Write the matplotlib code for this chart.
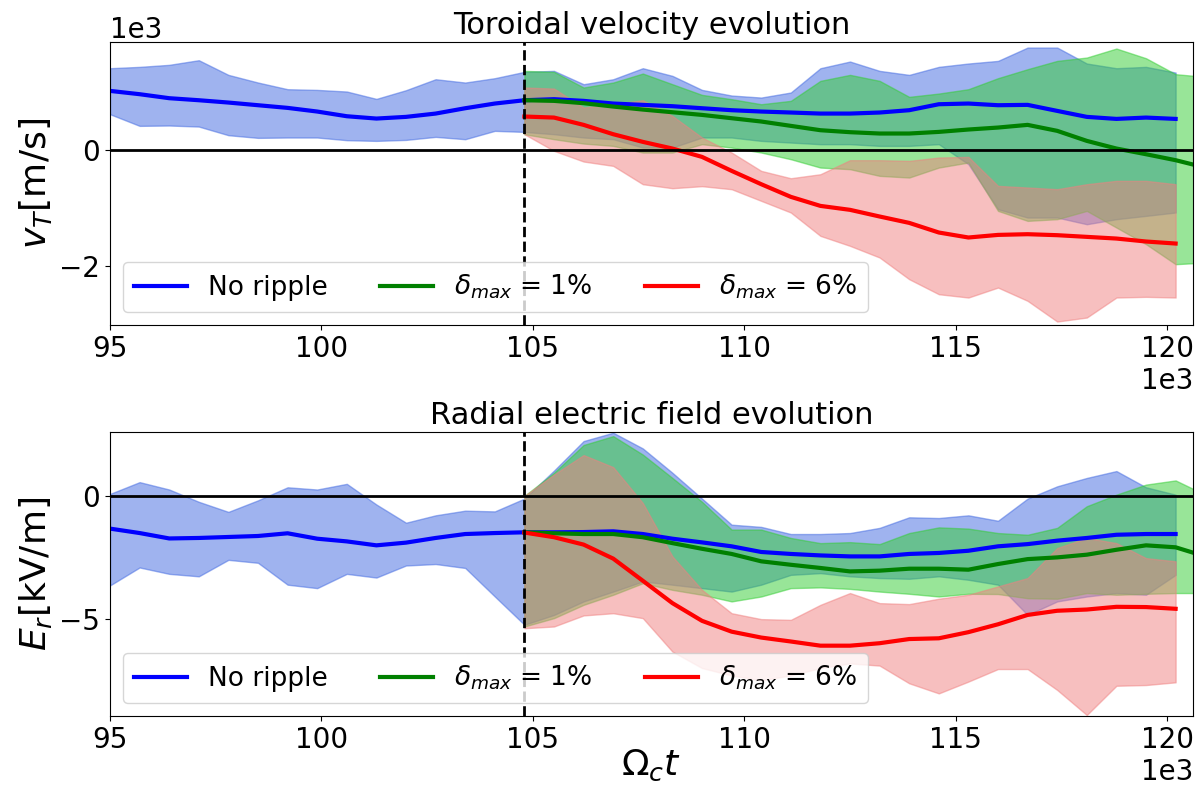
import numpy as np
import matplotlib.pyplot as plt

plt.rcParams['xtick.labelsize'] = 20
plt.rcParams['ytick.labelsize'] = 20

# time axis (Omega_c t), in units of 1e3
t_all = [95.0, 95.7, 96.4, 97.1, 97.8, 98.5, 99.2, 99.9, 100.6, 101.3, 102.0, 102.7,
         103.4, 104.1, 104.8, 105.5, 106.2, 106.9, 107.6, 108.3, 109.0, 109.7, 110.4,
         111.1, 111.8, 112.5, 113.2, 113.9, 114.6, 115.3, 116.0, 116.7, 117.4, 118.1,
         118.8, 119.5, 120.2]
t_rip = t_all[14:]
t_green = t_rip + [120.9]
t_switch = 104.8

# toroidal velocity [m/s]
vt_noripple_mean = [1017, 960, 891, 856, 816, 770, 724, 661, 580, 540, 569, 626, 718, 799, 856,
                    874, 845, 799, 776, 753, 718, 684, 661, 644, 626, 626, 644, 684, 787, 799,
                    770, 776, 672, 569, 534, 557, 534]
vt_noripple_hi = [1408, 1431, 1466, 1546, 1293, 1161, 1046, 1034, 1006, 879, 1029, 1218, 1161,
                  1236, 1345, 1362, 1132, 1218, 1408, 1276, 1034, 937, 902, 989, 1408, 1523,
                  1362, 1293, 1431, 1489, 1534, 1764, 1764, 1489, 1408, 1431, 1333]
vt_noripple_lo = [615, 414, 420, 402, 253, 207, 213, 213, 167, 155, 172, 224, 184, 328, 310,
                  270, 213, 184, 40, 40, 213, 213, 155, 126, 98, 98, 69, 69, 98, -247, -1023,
                  -1167, -1167, -1282, -1195, -1138, -1080]

vt_1pct_mean = [856, 845, 805, 747, 695, 649, 603, 546, 489, 414, 339, 305, 282, 282, 310, 351,
                385, 431, 328, 155, 23, -75, -178, -305]
vt_1pct_hi = [1362, 1345, 1075, 1161, 1316, 1132, 948, 874, 787, 845, 1190, 1293, 1190, 914, 971,
              1046, 1236, 1391, 1534, 1592, 1747, 1580, 1305, 1259]
vt_1pct_lo = [270, 184, 109, 69, -46, -46, 98, 40, -46, -161, -305, -333, -448, -477, -305, -218,
              -1052, -1224, -1195, -1052, -1339, -1626, -1971, -1943]

vt_6pct_mean = [575, 557, 431, 270, 138, 23, -121, -362, -592, -810, -966, -1034, -1149, -1259,
                -1425, -1511, -1466, -1454, -1471, -1500, -1529, -1580, -1615]
vt_6pct_hi = [1075, 1057, 730, 787, 856, 586, 213, -46, -362, -489, -420, -178, -178, -190, -132,
              -121, -621, -649, -678, -592, -534, -534, -592]
vt_6pct_lo = [270, -17, -201, -276, -592, -661, -626, -678, -879, -1080, -1483, -1655, -1856,
              -2230, -2489, -2546, -2374, -2603, -2960, -2891, -2546, -2534, -2546]

# radial electric field [kV/m]
er_noripple_mean = [-1.33, -1.51, -1.73, -1.71, -1.67, -1.63, -1.52, -1.74, -1.85, -2.01, -1.90,
                    -1.71, -1.55, -1.51, -1.48, -1.48, -1.47, -1.44, -1.55, -1.74, -1.89, -2.05,
                    -2.28, -2.36, -2.42, -2.46, -2.46, -2.36, -2.32, -2.23, -2.05, -1.96, -1.82,
                    -1.71, -1.58, -1.55, -1.55]
er_noripple_hi = [0.08, 0.56, 0.26, -0.24, -0.65, -0.18, 0.35, 0.26, 0.49, -0.35, -1.09, -0.79,
                  -0.60, -0.63, -0.11, 1.03, 2.23, 2.57, 1.93, 0.94, -0.11, -1.17, -1.26, -1.55,
                  -1.55, -1.51, -1.30, -0.87, -0.90, -0.79, -1.01, -0.11, 0.39, 0.73, 1.01, 0.35,
                  0.05]
er_noripple_lo = [-3.64, -2.91, -3.17, -3.27, -2.60, -2.72, -3.61, -3.75, -3.17, -3.32, -2.83,
                  -2.77, -2.93, -4.09, -5.24, -4.84, -4.29, -3.89, -3.48, -3.61, -3.75, -3.89,
                  -3.61, -3.21, -3.14, -3.27, -3.34, -3.37, -3.27, -3.41, -3.61, -4.84, -4.29,
                  -4.09, -3.95, -4.02, -3.21]

er_1pct_mean = [-1.48, -1.52, -1.55, -1.55, -1.68, -1.92, -2.15, -2.36, -2.66, -2.80, -2.93,
                -3.07, -3.04, -2.96, -2.96, -3.00, -2.77, -2.57, -2.50, -2.39, -2.19, -2.01,
                -2.09, -2.46]
er_1pct_hi = [0.0, 0.94, 2.07, 2.43, 1.68, 0.73, -0.24, -1.37, -1.37, -1.71, -1.92, -1.88, -1.96,
              -1.51, -1.28, -1.33, -1.51, -1.58, -1.30, -0.42, 0.05, 0.46, 0.63, 0.05]
er_1pct_lo = [-5.31, -4.97, -4.43, -4.02, -3.55, -3.82, -4.02, -4.29, -4.09, -3.75, -3.72, -3.78,
              -3.89, -3.98, -4.09, -3.98, -3.99, -4.16, -4.18, -3.95, -4.02, -3.98, -3.95, -3.95]

er_6pct_mean = [-1.49, -1.68, -1.98, -2.55, -3.45, -4.36, -5.08, -5.52, -5.76, -5.92, -6.09, -6.09,
                -5.99, -5.82, -5.79, -5.54, -5.22, -4.84, -4.67, -4.62, -4.51, -4.52, -4.59]
er_6pct_hi = [0.0, 0.87, 1.66, 1.17, -0.29, -2.46, -3.82, -4.77, -5.01, -5.04, -4.43, -3.95, -4.36,
              -4.40, -4.18, -4.02, -3.68, -3.34, -2.12, -1.71, -1.92, -2.53, -2.66]
er_6pct_lo = [-5.38, -5.31, -4.86, -4.77, -4.97, -6.33, -7.0, -7.3, -7.5, -7.3, -7.0, -6.81, -6.90,
              -7.62, -8.03, -7.55, -7.04, -7.04, -7.89, -8.91, -7.72, -7.69, -7.58]

labels = ['No ripple', r'$\delta_{max}$ = 1%', r'$\delta_{max}$ = 6%']
line_colors = ['b', 'g', 'r']
fill_colors = ['royalblue', 'limegreen', 'lightcoral']


def draw_panel(ax, series, title, ylabel, ylim, yticks):
    # series = list of (t, mean, lo, hi)
    for (t, m, lo, hi), fc in zip(series, fill_colors):
        ax.fill_between(np.array(t) * 1e3, lo, hi, color=fc, alpha=0.5)
    for (t, m, lo, hi), lc, lab in zip(series, line_colors, labels):
        ax.plot(np.array(t) * 1e3, m, color=lc, lw=3, label=lab)
    ax.axhline(0, color='k', lw=2)
    ax.axvline(t_switch * 1e3, color='k', ls='--', lw=2)
    ax.set_xlim(95000, 120610)
    ax.set_ylim(*ylim)
    ax.set_yticks(yticks)
    ax.set_xticks([95000, 100000, 105000, 110000, 115000, 120000])
    ax.set_title(title, fontsize=22)
    ax.set_ylabel(ylabel, fontsize=26)
    ax.legend(loc='lower left', ncol=3, fontsize=19)


fig = plt.figure(figsize=(12.01, 7.91), dpi=100)
ax1 = fig.add_axes([0.0916, 0.5891, 0.9017, 0.3578])
ax2 = fig.add_axes([0.0916, 0.0948, 0.9017, 0.3591])

draw_panel(ax1,
           [(t_all, vt_noripple_mean, vt_noripple_lo, vt_noripple_hi),
            (t_green, vt_1pct_mean, vt_1pct_lo, vt_1pct_hi),
            (t_rip, vt_6pct_mean, vt_6pct_lo, vt_6pct_hi)],
           'Toroidal velocity evolution', r'$v_T$[m/s]', (-3020, 1860), [-2000, 0])
ax1.ticklabel_format(axis='both', style='sci', scilimits=(3, 3))

draw_panel(ax2,
           [(t_all, er_noripple_mean, er_noripple_lo, er_noripple_hi),
            (t_green, er_1pct_mean, er_1pct_lo, er_1pct_hi),
            (t_rip, er_6pct_mean, er_6pct_lo, er_6pct_hi)],
           'Radial electric field evolution', r'$E_r$[kV/m]', (-8.95, 2.6), [-5, 0])
ax2.ticklabel_format(axis='x', style='sci', scilimits=(3, 3))
ax2.set_xlabel(r'$\Omega_c t$', fontsize=26, labelpad=-4)

fig.savefig('out.png', dpi=100)
